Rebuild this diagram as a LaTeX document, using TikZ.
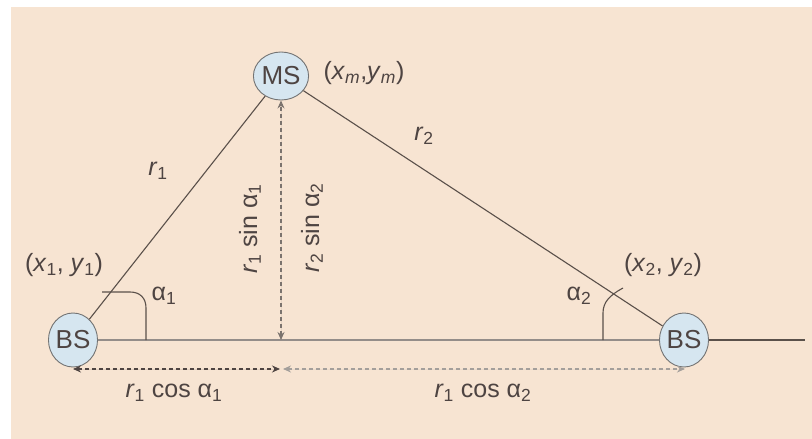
\documentclass[tikz,border=0pt]{standalone}
\usepackage{fontspec}
\setmainfont{Liberation Sans}
\usepackage{tikz}
\usetikzlibrary{shapes.geometric, arrows.meta, positioning, calc}
\definecolor{paper}{RGB}{247,228,210}
\definecolor{bubble}{RGB}{214,230,240}
\definecolor{ink}{RGB}{90,80,74}
\definecolor{txt}{RGB}{78,68,66}

\begin{document}
\begin{tikzpicture}[
    x=1pt, y=-1pt,
    station/.style={ellipse, draw=black!55, fill=bubble, inner sep=0pt, line width=0.9pt,
                    minimum width=47pt, minimum height=54pt,
                    font=\fontsize{26}{28}\selectfont, text=txt},
    lbl/.style={font=\fontsize{25}{28}\selectfont, text=txt, inner sep=0pt},
    leg/.style={draw=ink, line width=1.1pt},
    baseln/.style={draw=ink!65, line width=2.6pt},
    dimarr/.style={{Stealth[length=8pt,width=7pt]}-{Stealth[length=8pt,width=7pt]},
                   dash pattern=on 4pt off 3pt, line width=1.1pt},
    anglemark/.style={draw=ink, line width=1.1pt}
]
\useasboundingbox (0,0) rectangle (812,439);
\fill[paper] (11,7) rectangle (812,439);
% stations
\node[station] (BSL) at (73,340) {BS};
\node[station] (BSR) at (684,340) {BS};
\node[station, minimum width=48pt, minimum height=48pt] (MS) at (281,76) {MS};
% helper points
\coordinate (far) at (805,340);
\coordinate (foot) at (281,340);
\coordinate (dl) at (73,369);
\coordinate (dm1) at (280,369);
\coordinate (dm2) at (283,369);
\coordinate (dr) at (685,369);
% triangle
\draw[baseln] (BSL) -- (BSR);
\draw[leg] (BSR) -- (far);
\draw[leg] (BSL) -- (MS);
\draw[leg] (MS) -- (BSR);
% angles
\draw[anglemark] (102,292) -- (130,292) .. controls (140,292) and (146,298) .. (146,308) -- (146,340);
\draw[anglemark] (623,288) .. controls (610,295) and (603,302) .. (603,313) -- (603,340);
% dimension arrows
\draw[dimarr, draw=ink!80, fill=ink!80] (foot) -- (MS.south);
\draw[dimarr, draw=txt, fill=txt] (dl) -- (dm1);
\draw[dimarr, draw=ink!55, fill=ink!55] (dm2) -- (dr);
% labels
\node[lbl] (msxy) at (364,73) {(\textit{x}\textsubscript{\textit{m}},\textit{y}\textsubscript{\textit{m}})};
\node[lbl] (bs1xy) at (64,265) {(\textit{x}\textsubscript{1}, \textit{y}\textsubscript{1})};
\node[lbl] (bs2xy) at (663,265) {(\textit{x}\textsubscript{2}, \textit{y}\textsubscript{2})};
\node[lbl] (r1) at (158,171) {\textit{r}\textsubscript{1}};
\node[lbl] (r2) at (424,136) {\textit{r}\textsubscript{2}};
\node[lbl] (a1) at (164,296) {α\textsubscript{1}};
\node[lbl] (a2) at (579,296) {α\textsubscript{2}};
\node[lbl, rotate=90] (h1) at (250,229) {\textit{r}\textsubscript{1} sin α\textsubscript{1}};
\node[lbl, rotate=90] (h2) at (312,228) {\textit{r}\textsubscript{2} sin α\textsubscript{2}};
\node[lbl] (c1) at (174,393) {\textit{r}\textsubscript{1} cos α\textsubscript{1}};
\node[lbl] (c2) at (483,393) {\textit{r}\textsubscript{1} cos α\textsubscript{2}};
\end{tikzpicture}
\end{document}
